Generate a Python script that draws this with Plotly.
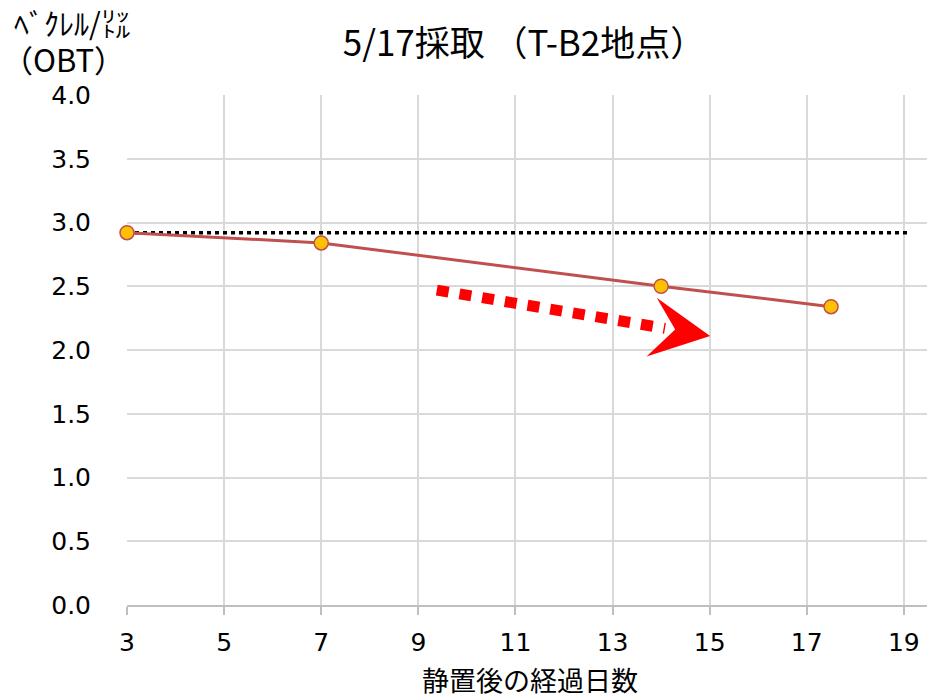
import plotly.graph_objects as go

# data
days = [3, 7, 14, 17.5]
bq = [2.92, 2.84, 2.50, 2.34]
ref_x = [3, 19.1]
ref_y = [2.92, 2.92]
# trend arrow (decorative)
arrow_x = [9.38, 14.08]
arrow_y = [2.47, 2.17]
head_x = [13.91, 15.01, 13.70, 14.29]
head_y = [2.41, 2.11, 1.95, 2.16]

x_ticks = [3, 5, 7, 9, 11, 13, 15, 17, 19]
y_ticks = [0, 0.5, 1, 1.5, 2, 2.5, 3, 3.5, 4]

title_text = "5/17採取 （T-B2地点）"
x_title = "静置後の経過日数"
y_title_1 = "ﾍﾞｸﾚﾙ/㍑"
y_title_2 = "（OBT）"

JP = "Noto Sans CJK JP"
NUM = "DejaVu Sans"

W, H = 927, 689

fig = go.Figure()
fig.add_trace(go.Scatter(x=ref_x, y=ref_y, mode="lines",
                         line=dict(color="black", width=3.5, dash="4px,4px"),
                         hoverinfo="skip", showlegend=False))
fig.add_trace(go.Scatter(x=arrow_x, y=arrow_y, mode="lines",
                         line=dict(color="#FF0000", width=11, dash="12px,11px"),
                         hoverinfo="skip", showlegend=False))
fig.add_trace(go.Scatter(x=days, y=bq, mode="lines+markers", cliponaxis=False,
                         line=dict(color="#C0504D", width=3),
                         marker=dict(size=14, color="#FFC000",
                                     line=dict(color="#C0504D", width=1.5)),
                         showlegend=False))

path = "M {} {} L {} {} L {} {} L {} {} Z".format(
    head_x[0], head_y[0], head_x[1], head_y[1], head_x[2], head_y[2], head_x[3], head_y[3])
fig.add_shape(type="path", path=path, xref="x", yref="y",
              fillcolor="#FF0000", line=dict(color="#FF0000", width=0))

fig.update_layout(
    width=W, height=H,
    margin=dict(l=119, r=2, t=87, b=92),
    paper_bgcolor="white", plot_bgcolor="white",
    font=dict(family=NUM, color="#000000", size=25),
    title=dict(text=title_text, x=516 / W, xanchor="center", y=1 - 36 / H, yanchor="middle",
               font=dict(family=JP, size=35, color="#000000")),
    xaxis=dict(range=[3, 19.6], tickmode="array", tickvals=x_ticks,
               ticktext=[str(v) for v in x_ticks],
               showgrid=True, gridcolor="#D9D9D9", gridwidth=1.5,
               ticks="outside", ticklen=8, tickcolor="#BFBFBF", tickwidth=1.5,
               showline=True, linecolor="#BFBFBF", linewidth=1.5,
               zeroline=False, ticklabelstandoff=6,
               tickfont=dict(family=NUM, size=25, color="#000000")),
    yaxis=dict(range=[0, 4], tickmode="array", tickvals=y_ticks,
               ticktext=["{:.1f}".format(v) for v in y_ticks],
               showgrid=True, gridcolor="#D9D9D9", gridwidth=1.5,
               ticks="", zeroline=False, showline=False,
               ticklabelstandoff=35,
               tickfont=dict(family=NUM, size=25, color="#000000")),
    annotations=[
        dict(text=x_title, xref="paper", yref="paper", x=0.5, y=0, yshift=-74,
             xanchor="center", yanchor="middle", showarrow=False,
             font=dict(family=JP, size=27, color="#000000")),
        dict(text=y_title_1, xref="paper", yref="paper", x=0, y=1, xshift=-115, yshift=73,
             xanchor="left", yanchor="middle", showarrow=False,
             font=dict(family=JP, size=30, color="#000000")),
        dict(text=y_title_2, xref="paper", yref="paper", x=0, y=1, xshift=-64, yshift=37,
             xanchor="center", yanchor="middle", showarrow=False,
             font=dict(family=JP, size=31, color="#000000")),
    ],
)

fig.write_html("out.html")
